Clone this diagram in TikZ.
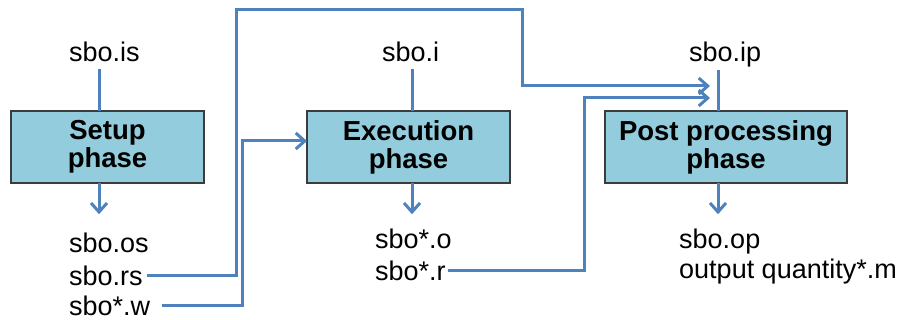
\documentclass[tikz,border=0pt]{standalone}
\usepackage{fontspec}
\setmainfont{Liberation Sans}
\usetikzlibrary{positioning,arrows.meta}
\definecolor{flowblue}{RGB}{79,129,189}
\definecolor{phasefill}{RGB}{147,205,221}
\definecolor{phaseline}{RGB}{60,60,60}
\tikzset{
  phase box/.style={
    fill=phasefill,
    draw=phaseline,
    line width=1.8pt,
    outer sep=0pt,
    minimum width={#1pt},
    minimum height={72pt},
    align=center,
    font=\fontsize{27.5}{28}\selectfont\bfseries,
  },
  file name/.style={
    anchor=base west,
    inner sep=2pt,
    font=\fontsize{27}{30}\selectfont,
  },
  flow/.style={
    draw=flowblue,
    line width=3pt,
  },
  flow arrow/.style={
    flow,
    -{Straight Barb[length=9pt,width=16pt]},
  }
}

\begin{document}
\begin{tikzpicture}[node distance=103pt]
        \useasboundingbox (0pt,0pt) rectangle (904pt,-320pt);

        \node [phase box=193] (setup) at (107.5pt,-147pt) {Setup\\phase};
        \node [phase box=203, right=of setup] (exec) {Execution\\phase};
        \node [phase box=242, right=95pt of exec] (post) {Post processing\\phase};

        \node [file name] (is) at (67pt,-62pt) {sbo.is};
        \node [file name] (i) at (380pt,-62pt) {sbo.i};
        \node [file name] (ip) at (687pt,-62pt) {sbo.ip};

        \node [file name] (os) at (67pt,-252pt) {sbo.os};
        \node [file name] (rs) at (67pt,-285pt) {sbo.rs};
        \node [file name] (w) at (67pt,-315pt) {sbo*.w};
        \node [file name] (o) at (373pt,-248pt) {sbo*.o};
        \node [file name] (r) at (373pt,-280pt) {sbo*.r};
        \node [file name] (op) at (677pt,-248pt) {sbo.op};
        \node [file name] (m) at (677pt,-278pt) {output quantity*.m};

        % inputs from above
        \draw [flow, shorten <=5pt] ([xshift=-8.5pt]setup.north |- is.south) -- ([xshift=-8.5pt]setup.north);
        \draw [flow, shorten <=5pt] ([xshift=3.5pt]exec.north |- i.south) -- ([xshift=3.5pt]exec.north);
        \draw [flow] ([xshift=-8pt]post.north |- ip.south) -- ([xshift=-8pt]post.north);

        % outputs
        \draw [flow arrow, shorten >=16pt] ([xshift=-8.5pt]setup.south) -- ([xshift=-8.5pt]setup.south |- os.north);
        \draw [flow arrow, shorten >=12pt] ([xshift=3.5pt]exec.south) -- ([xshift=3.5pt]exec.south |- o.north);
        \draw [flow arrow, shorten >=12pt] ([xshift=-8pt]post.south) -- ([xshift=-8pt]post.south |- op.north);

        % feedback lines
        \coordinate (top bend) at (236pt,-10pt);
        \coordinate (ip bend) at (522pt,-86pt);
        \coordinate (ip in1) at (710pt,-86pt);
        \coordinate (w bend) at (242pt,-141pt);
        \coordinate (r bend) at (584pt,-98pt);
        \coordinate (ip in2) at (710pt,-98pt);

        \draw [flow arrow, shorten <=2pt] (rs.east) -| (top bend) -| (ip bend) -- (ip in1);
        \draw [flow arrow, shorten <=10pt] (w.east) -| (w bend) -- ([yshift=6pt]exec.west);
        \draw [flow arrow] (r.east) -| (r bend) -- (ip in2);
    \end{tikzpicture}
\end{document}
